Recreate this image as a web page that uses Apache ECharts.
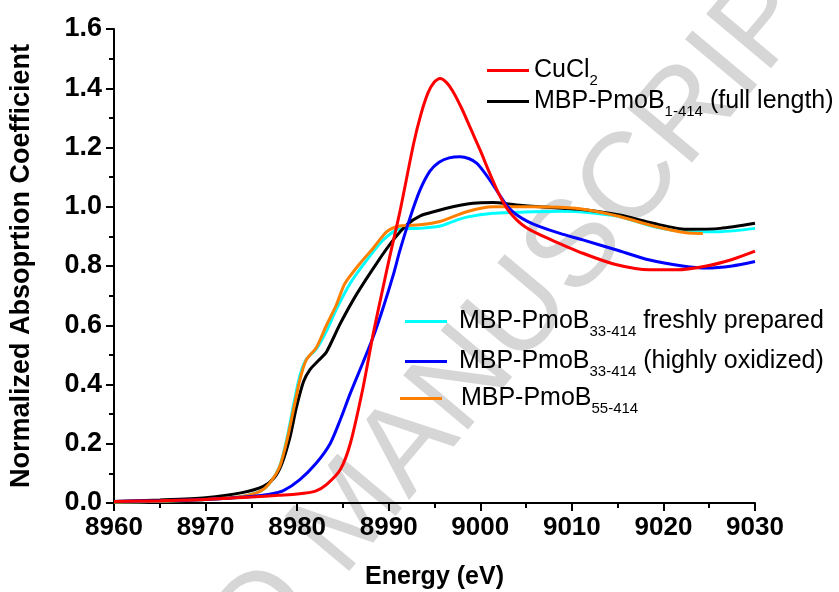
<!DOCTYPE html>
<html>
<head>
<meta charset="utf-8">
<script src="https://cdn.jsdelivr.net/npm/echarts@6/dist/echarts.min.js"></script>
<style>html,body{margin:0;padding:0;background:#fff;}#c{width:839px;height:592px;}</style>
</head>
<body>
<div id="c"></div>
<script>
// ---- data ----
const xTicks = [8960, 8970, 8980, 8990, 9000, 9010, 9020, 9030];
const yTicks = [0.0, 0.2, 0.4, 0.6, 0.8, 1.0, 1.2, 1.4, 1.6];

const cuclE = [8960, 8965, 8970, 8975, 8978, 8980, 8982, 8983.2, 8984.7, 8985.8, 8987.2, 8988.3, 8989.4, 8990.1, 8991.2, 8992.7, 8993.5, 8994.3, 8995.0, 8995.6, 8996.3, 8997.0, 8998.0, 8999.0, 9000.0, 9001.0, 9002.0, 9003.0, 9004.0, 9005.0, 9006.2, 9007.4, 9011.2, 9014.9, 9018.5, 9021.4, 9024.7, 9027.5, 9030];
const cuclA = [0.005, 0.008, 0.012, 0.02, 0.026, 0.03, 0.04, 0.062, 0.112, 0.20, 0.39, 0.57, 0.73, 0.83, 0.98, 1.21, 1.31, 1.385, 1.422, 1.433, 1.42, 1.39, 1.33, 1.26, 1.19, 1.115, 1.045, 0.99, 0.955, 0.93, 0.91, 0.893, 0.843, 0.804, 0.787, 0.787, 0.80, 0.822, 0.85];

const fullE = [8960, 8965, 8970, 8974, 8976.3, 8977.5, 8978.3, 8979.2, 8979.9, 8980.7, 8981.4, 8982.3, 8983.2, 8984.7, 8986.5, 8988.7, 8990.5, 8992.0, 8993.5, 8994.9, 8997.0, 8999.2, 9001.4, 9003.9, 9006.5, 9009.0, 9011.6, 9015.2, 9018.9, 9022.5, 9026.2, 9030];
const fullA = [0.005, 0.01, 0.018, 0.035, 0.056, 0.085, 0.13, 0.22, 0.32, 0.41, 0.45, 0.48, 0.51, 0.605, 0.705, 0.81, 0.888, 0.94, 0.97, 0.983, 1.0, 1.012, 1.014, 1.006, 1.0, 0.995, 0.989, 0.972, 0.944, 0.924, 0.927, 0.944];

const freshE = [8960, 8965, 8970, 8974, 8976, 8977, 8978.1, 8978.9, 8979.6, 8980.3, 8981.0, 8982.1, 8983.2, 8984.3, 8985.8, 8987.6, 8989.4, 8991.2, 8993.4, 8995.6, 8997.0, 8998.5, 9001.4, 9005.7, 9009.0, 9012.0, 9015.2, 9018.9, 9022.5, 9026.2, 9030];
const freshA = [0.003, 0.006, 0.012, 0.022, 0.04, 0.067, 0.125, 0.22, 0.33, 0.43, 0.485, 0.52, 0.58, 0.655, 0.742, 0.82, 0.888, 0.925, 0.927, 0.935, 0.95, 0.965, 0.978, 0.983, 0.985, 0.98, 0.967, 0.933, 0.916, 0.916, 0.927];

const oxE = [8960, 8965, 8970, 8975, 8977, 8978.5, 8980.3, 8982.1, 8983.6, 8984.7, 8985.8, 8987.2, 8988.3, 8989.4, 8990.5, 8991.2, 8992.3, 8993.4, 8994.5, 8995.5, 8996.6, 8997.8, 8998.8, 8999.6, 9000.3, 9001.0, 9002.0, 9003.0, 9004.0, 9005.2, 9006.5, 9008.7, 9011.2, 9014.9, 9018.5, 9022.1, 9024.7, 9027.5, 9030];
const oxA = [0.005, 0.008, 0.012, 0.022, 0.03, 0.042, 0.079, 0.135, 0.20, 0.28, 0.37, 0.475, 0.56, 0.66, 0.77, 0.85, 0.96, 1.055, 1.12, 1.15, 1.165, 1.169, 1.162, 1.147, 1.122, 1.092, 1.045, 1.0, 0.972, 0.95, 0.933, 0.91, 0.888, 0.854, 0.82, 0.80, 0.793, 0.80, 0.815];

const p55E = [8960, 8965, 8970, 8974, 8976, 8977, 8978.1, 8978.9, 8979.6, 8980.3, 8981.0, 8982.1, 8983.2, 8984.3, 8985.2, 8986.9, 8988.3, 8989.8, 8991.2, 8993.4, 8995.6, 8998.5, 9001.4, 9005.7, 9008.7, 9011.6, 9015.2, 9018.9, 9022.5, 9024.3];
const p55A = [0.003, 0.006, 0.012, 0.022, 0.04, 0.067, 0.123, 0.213, 0.315, 0.416, 0.483, 0.525, 0.60, 0.67, 0.74, 0.81, 0.86, 0.916, 0.935, 0.939, 0.95, 0.983, 1.0, 1.0, 0.998, 0.99, 0.967, 0.935, 0.912, 0.91];

const names = ['CuCl2', 'MBP-PmoB1-414 (full length)', 'MBP-PmoB33-414 freshly prepared', 'MBP-PmoB33-414 (highly oxidized)', 'MBP-PmoB55-414'];
const richLabels = {
  'CuCl2': '{n|CuCl}{s|2}',
  'MBP-PmoB1-414 (full length)': '{n|MBP-PmoB}{s|1-414}{n| (full length)}',
  'MBP-PmoB33-414 freshly prepared': '{n| MBP-PmoB}{s|33-414}{n| freshly prepared}',
  'MBP-PmoB33-414 (highly oxidized)': '{n| MBP-PmoB}{s|33-414}{n| (highly oxidized)}',
  'MBP-PmoB55-414': '{n|  MBP-PmoB}{s|55-414}'
};

function zip(e, a) { return e.map((v, i) => [v, a[i]]); }

const chart = echarts.init(document.getElementById('c'), null, {renderer: 'canvas'});
const FONT = 'Liberation Sans, Arial, sans-serif';
const rich = {
  n: {fontFamily: FONT, fontSize: 25, lineHeight: 36, color: '#000'},
  s: {fontFamily: FONT, fontSize: 15, lineHeight: 13, verticalAlign: 'bottom', color: '#000'}
};
function mkLegend(name, left, top) {
  return {
    data: [name], left: left, top: top, orient: 'vertical', padding: 0,
    icon: 'rect', itemWidth: 42, itemHeight: 3, selectedMode: false,
    formatter: n => richLabels[n],
    textStyle: {rich: rich, fontFamily: FONT}
  };
}
function mkSeries(name, data, color) {
  return {
    name: name, type: 'line', data: data, showSymbol: false, symbol: 'none',
    smooth: 0.25, lineStyle: {color: color, width: 3}, itemStyle: {color: color}
  };
}

const option = {
  backgroundColor: '#fff',
  animation: false,
  grid: {left: 114, right: 84, top: 29, bottom: 89, containLabel: false, outerBoundsMode: 'none'},
  graphic: [{
    type: 'text', x: 352, y: 515, rotation: 50 * Math.PI / 180, z: 0, silent: true,
    style: {text: 'ACCEPTED MANUSCRIPT', fontSize: 123, fontFamily: FONT, fill: '#d6d6d6', align: 'center', verticalAlign: 'middle'}
  }],
  legend: [
    mkLegend(names[0], 487, 58),
    mkLegend(names[1], 487, 89),
    mkLegend(names[2], 405, 309),
    mkLegend(names[3], 405, 349),
    mkLegend(names[4], 400, 386)
  ],
  xAxis: {
    type: 'value', min: xTicks[0], max: xTicks[xTicks.length - 1], interval: 10,
    name: 'Energy (eV)', nameLocation: 'middle', nameGap: 62,
    nameTextStyle: {fontFamily: FONT, fontWeight: 'bold', fontSize: 25, color: '#000'},
    axisLine: {lineStyle: {color: '#000', width: 2}},
    axisTick: {show: true, inside: false, length: 8, lineStyle: {color: '#000', width: 2}},
    minorTick: {show: true, splitNumber: 2, length: 5, lineStyle: {color: '#000', width: 2}},
    axisLabel: {fontFamily: FONT, fontWeight: 'bold', fontSize: 26, color: '#000', margin: 12,
      formatter: v => String(v)},
    splitLine: {show: false}
  },
  yAxis: {
    type: 'value', min: yTicks[0], max: yTicks[yTicks.length - 1], interval: 0.2,
    name: 'Normalized Absoprtion Coefficient', nameLocation: 'middle', nameGap: 79,
    nameTextStyle: {fontFamily: FONT, fontWeight: 'bold', fontSize: 27, color: '#000'},
    axisLine: {show: true, lineStyle: {color: '#000', width: 2}},
    axisTick: {show: true, inside: false, length: 8, lineStyle: {color: '#000', width: 2}},
    minorTick: {show: true, splitNumber: 2, length: 5, lineStyle: {color: '#000', width: 2}},
    axisLabel: {fontFamily: FONT, fontWeight: 'bold', fontSize: 27, color: '#000', margin: 12,
      formatter: v => v.toFixed(1)},
    splitLine: {show: false}
  },
  series: [
    mkSeries(names[2], zip(freshE, freshA), '#00ffff'),
    mkSeries(names[1], zip(fullE, fullA), '#000000'),
    mkSeries(names[4], zip(p55E, p55A), '#ff8000'),
    mkSeries(names[3], zip(oxE, oxA), '#0000ff'),
    mkSeries(names[0], zip(cuclE, cuclA), '#ff0000')
  ]
};
chart.setOption(option);
</script>
</body>
</html>
